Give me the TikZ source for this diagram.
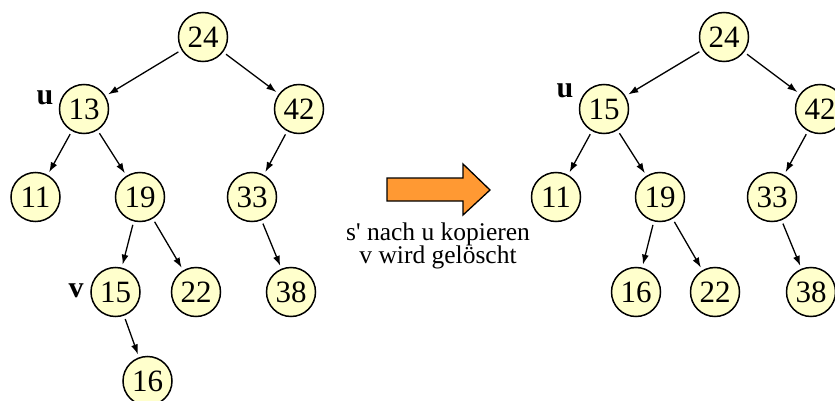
\documentclass[tikz,border=0pt]{standalone}
\usepackage{fontspec}
\setmainfont{Liberation Serif}
\usetikzlibrary{arrows.meta}
\definecolor{nodefill}{HTML}{FFFFCC}
\definecolor{arrowfill}{HTML}{FF9933}
\tikzset{
  bst/.style={circle, draw=black, line width=1.5pt, fill=nodefill, minimum size=49pt, inner sep=0pt, font=\fontsize{31}{31}\selectfont},
  edge/.style={-{Latex[length=10pt,width=7pt]}, line width=1.3pt, shorten <=3.5pt, shorten >=3pt},
  lbl/.style={anchor=base, inner sep=0pt, font=\fontsize{30}{30}\selectfont\bfseries},
  captxt/.style={anchor=base, inner sep=0pt, font=\fontsize{25.5}{25.5}\selectfont}
}
\begin{document}
\begin{tikzpicture}[x=1pt,y=-1pt]
\useasboundingbox (0,0) rectangle (835,401);
\clip (0,0) rectangle (835,401);
% left tree
\node[bst] (a24) at (203,37) {24};
\node[bst] (a13) at (84,109) {13};
\node[bst] (a42) at (299,109) {42};
\node[bst] (a11) at (35.5,197) {11};
\node[bst] (a19) at (140,197) {19};
\node[bst] (a33) at (252,197) {33};
\node[bst] (a15) at (115.5,292) {15};
\node[bst] (a22) at (196,292) {22};
\node[bst] (a38) at (291,292) {38};
\node[bst] (a16) at (147.5,381) {16};
\node[lbl] (au) at (45,105) {u};
\node[lbl] (av) at (76,297) {v};
\draw[edge] (a24) -- (a13);
\draw[edge] (a24) -- (a42);
\draw[edge] (a13) -- (a11);
\draw[edge] (a13) -- (a19);
\draw[edge] (a42) -- (a33);
\draw[edge] (a19) -- (a15);
\draw[edge] (a19) -- (a22);
\draw[edge] (a33) -- (a38);
\draw[edge] (a15) -- (a16);
% block arrow
\draw[line width=1.3pt, fill=arrowfill, line join=miter]
  (387,178) -- (463,178) -- (463,164) -- (490,190) -- (463,215) -- (463,201) -- (387,201) -- cycle;
\node[captxt] (cap1) at (438,240) {s\textquotesingle{} nach u kopieren};
\node[captxt] (cap2) at (438,263) {v wird gelöscht};
% right tree
\node[bst] (b24) at (724,37) {24};
\node[bst] (b15) at (604,109) {15};
\node[bst] (b42) at (820,109) {42};
\node[bst] (b11) at (556,197) {11};
\node[bst] (b19) at (660,197) {19};
\node[bst] (b33) at (772,197) {33};
\node[bst] (b16) at (636,292) {16};
\node[bst] (b22) at (715,292) {22};
\node[bst] (b38) at (811,292) {38};
\node[lbl] (bu) at (565,98) {u};
\draw[edge] (b24) -- (b15);
\draw[edge] (b24) -- (b42);
\draw[edge] (b15) -- (b11);
\draw[edge] (b15) -- (b19);
\draw[edge] (b42) -- (b33);
\draw[edge] (b19) -- (b16);
\draw[edge] (b19) -- (b22);
\draw[edge] (b33) -- (b38);
\end{tikzpicture}
\end{document}
